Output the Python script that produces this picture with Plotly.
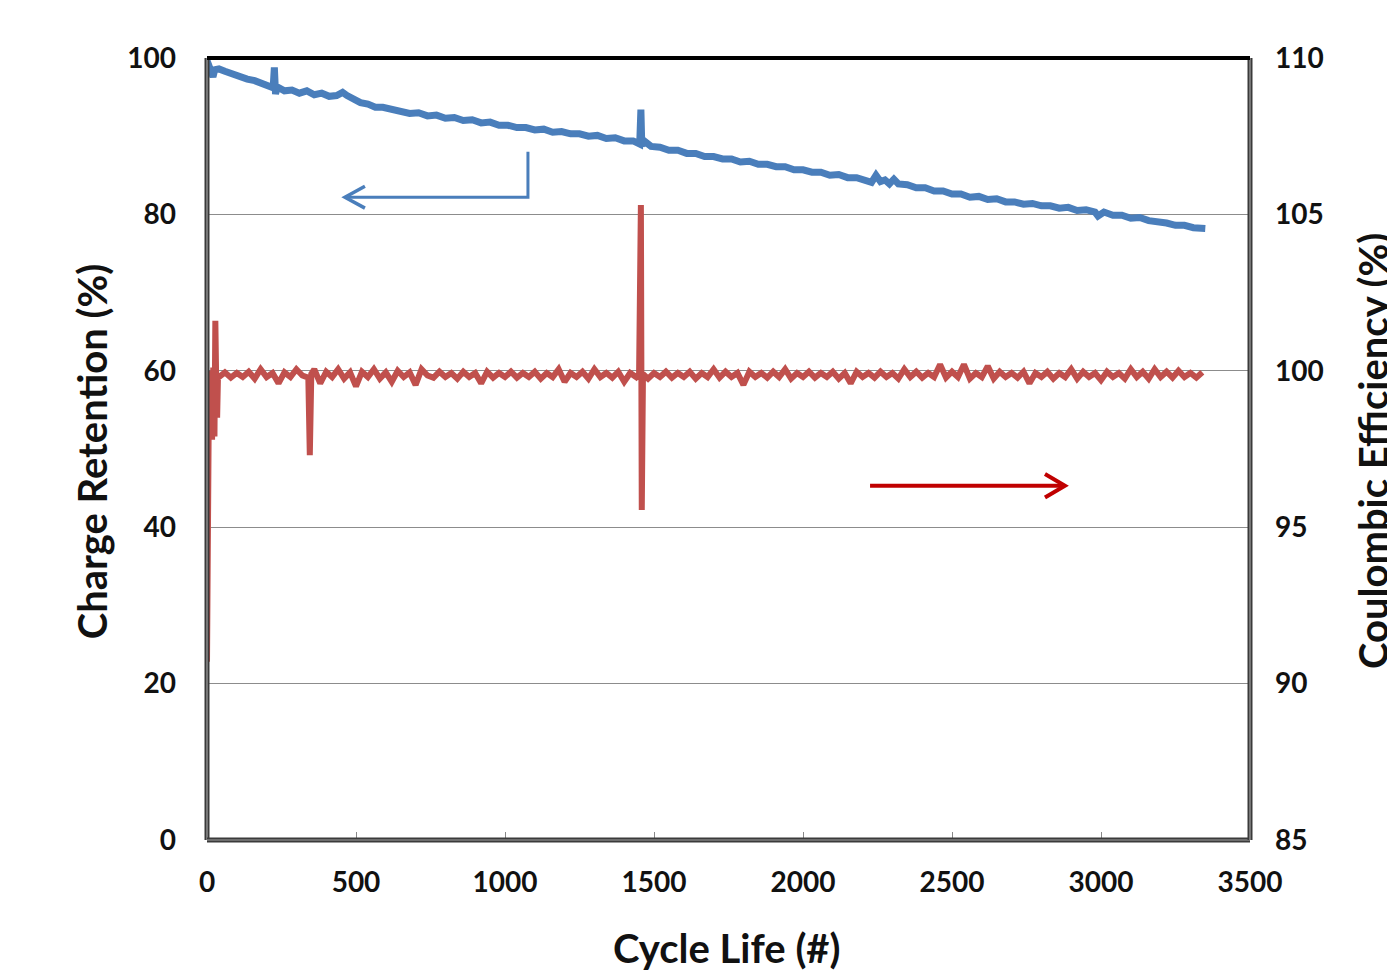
import plotly.graph_objects as go

# ---------------- data ----------------
blue_cycles = [0, 8, 15, 20, 26, 40, 60, 85, 110, 135, 160, 185, 205, 222, 226, 230, 236,
               260, 285, 310, 335, 360, 385, 410, 435, 455, 470, 490, 515, 540, 565, 590,
               620, 650, 680, 710, 740, 770, 800, 830, 860, 890, 920, 950, 980, 1010, 1040,
               1070, 1100, 1130, 1160, 1190, 1220, 1250, 1280, 1310, 1340, 1370, 1400, 1430,
               1452, 1456, 1459, 1470, 1490, 1520, 1550, 1580, 1610, 1640, 1670, 1700, 1730,
               1760, 1790, 1820, 1850, 1880, 1910, 1940, 1970, 2000, 2030, 2060, 2090, 2120,
               2150, 2180, 2210, 2230, 2245, 2260, 2275, 2290, 2305, 2320, 2350, 2380, 2410,
               2440, 2470, 2500, 2530, 2560, 2590, 2620, 2650, 2680, 2710, 2740, 2770, 2800,
               2830, 2860, 2890, 2920, 2950, 2980, 2990, 3010, 3040, 3070, 3100, 3130, 3160,
               3190, 3220, 3250, 3280, 3310, 3340, 3350]
charge_retention = [99.7, 99.0, 98.2, 97.6, 98.5, 98.6, 98.3, 97.9, 97.7, 97.3, 97.1, 96.7,
                    96.6, 96.2, 98.8, 95.4, 96.3, 95.8, 95.9, 95.5, 95.8, 95.3, 95.5, 95.1,
                    95.2, 95.6, 95.2, 94.8, 94.3, 94.1, 93.7, 93.7, 93.4, 93.3, 92.9, 93.0,
                    92.6, 92.7, 92.3, 92.4, 92.0, 92.1, 91.7, 91.8, 91.4, 91.4, 91.1, 91.1,
                    90.8, 90.9, 90.5, 90.6, 90.3, 90.3, 90.0, 90.1, 89.7, 89.8, 89.4, 89.4,
                    89.0, 93.4, 88.9, 89.3, 88.7, 88.6, 88.2, 88.2, 87.8, 87.8, 87.4, 87.4,
                    87.1, 87.1, 86.7, 86.8, 86.4, 86.4, 86.1, 86.1, 85.7, 85.7, 85.4, 85.4,
                    85.0, 85.1, 84.7, 84.7, 84.4, 84.1, 85.0, 84.2, 84.4, 83.9, 84.5, 83.9,
                    83.8, 83.4, 83.4, 83.0, 83.0, 82.6, 82.6, 82.2, 82.3, 81.9, 82.0, 81.6,
                    81.6, 81.3, 81.4, 81.1, 81.1, 80.8, 80.9, 80.5, 80.6, 80.3, 79.8, 80.3,
                    79.9, 79.9, 79.5, 79.6, 79.2, 79.1, 78.9, 78.6, 78.6, 78.3, 78.2, 78.2]

red_cycles = [0, 2, 4, 7, 10, 13, 17, 21, 25, 28, 31, 34, 37,
              40, 60, 80, 100, 120, 140, 160, 180, 200, 220,
              240, 260, 280, 300, 320, 340, 345, 350, 360, 380, 400, 420,
              440, 460, 480, 500, 520, 540, 560, 580, 600, 620,
              640, 660, 680, 700, 720, 740, 760, 780, 800, 820,
              840, 860, 880, 900, 920, 940, 960, 980, 1000, 1020,
              1040, 1060, 1080, 1100, 1120, 1140, 1160, 1180, 1200, 1220,
              1240, 1260, 1280, 1300, 1320, 1340, 1360, 1380, 1400, 1420,
              1440, 1450, 1456, 1459, 1463, 1480, 1500, 1520, 1540, 1560, 1580, 1600, 1620,
              1640, 1660, 1680, 1700, 1720, 1740, 1760, 1780, 1800, 1820,
              1840, 1860, 1880, 1900, 1920, 1940, 1960, 1980, 2000, 2020,
              2040, 2060, 2080, 2100, 2120, 2140, 2160, 2180, 2200, 2220,
              2240, 2260, 2280, 2300, 2320, 2340, 2360, 2380, 2400, 2420,
              2440, 2460, 2480, 2500, 2520, 2540, 2560, 2580, 2600, 2620,
              2640, 2660, 2680, 2700, 2720, 2740, 2760, 2780, 2800, 2820,
              2840, 2860, 2880, 2900, 2920, 2940, 2960, 2980, 3000, 3020,
              3040, 3060, 3080, 3100, 3120, 3140, 3160, 3180, 3200, 3220,
              3240, 3260, 3280, 3300, 3320, 3340]
coulombic_eff = [90.7, 99.7, 97.8, 100.0, 97.9, 99.9, 97.8, 100.1, 97.9, 101.6, 99.6, 98.5, 99.9,
                 99.8, 99.95, 99.78, 99.93, 99.8, 99.97, 99.75, 100.05, 99.8, 99.93,
                 99.6, 99.95, 99.8, 100.05, 99.85, 99.78, 97.3, 99.9, 100.05, 99.6, 99.97, 99.8,
                 100.05, 99.75, 99.95, 99.5, 99.97, 99.8, 100.05, 99.75, 99.95, 99.65,
                 100.0, 99.8, 99.95, 99.55, 100.05, 99.85, 99.78, 99.97, 99.8, 99.93,
                 99.75, 99.97, 99.8, 99.93, 99.6, 99.97, 99.78, 99.93, 99.8, 99.97,
                 99.78, 99.93, 99.8, 99.97, 99.75, 99.93, 99.8, 100.05, 99.65, 99.93,
                 99.8, 99.97, 99.75, 100.05, 99.8, 99.93, 99.78, 99.97, 99.65, 99.93,
                 99.8, 99.93, 105.3, 95.55, 99.9, 99.75, 99.93, 99.8, 99.97, 99.78, 99.93, 99.8, 99.97,
                 99.75, 99.93, 99.8, 100.05, 99.78, 99.97, 99.8, 99.93, 99.55, 99.97,
                 99.8, 99.93, 99.78, 99.97, 99.8, 100.05, 99.75, 99.93, 99.8, 99.97,
                 99.78, 99.93, 99.8, 99.97, 99.75, 99.93, 99.6, 99.97, 99.8, 99.93,
                 99.78, 99.97, 99.8, 99.93, 99.75, 100.05, 99.8, 99.97, 99.78, 99.93,
                 99.8, 100.2, 99.78, 99.97, 99.8, 100.2, 99.75, 99.93, 99.8, 100.15,
                 99.75, 99.97, 99.8, 99.93, 99.78, 99.97, 99.6, 99.93, 99.8, 99.97,
                 99.75, 99.93, 99.8, 100.05, 99.75, 99.97, 99.8, 99.93, 99.7, 99.97,
                 99.8, 99.93, 99.75, 100.05, 99.8, 99.97, 99.75, 100.05, 99.8, 99.97,
                 99.78, 100.0, 99.8, 99.93, 99.78, 99.95]

x_ticks = [0, 500, 1000, 1500, 2000, 2500, 3000, 3500]
left_ticks = [0, 20, 40, 60, 80, 100]
right_ticks = [85, 90, 95, 100, 105, 110]

BLUE = "#4A7EBB"
RED = "#C0504D"
DARKRED = "#C00000"
FONT = "Lato"

fig = go.Figure()
fig.add_trace(go.Scatter(x=red_cycles, y=coulombic_eff, yaxis="y2", mode="lines",
                         line=dict(color=RED, width=6), showlegend=False, hoverinfo="skip"))
fig.add_trace(go.Scatter(x=blue_cycles, y=charge_retention, yaxis="y", mode="lines",
                         line=dict(color=BLUE, width=7), showlegend=False, hoverinfo="skip"))

tickfont = dict(family=FONT, size=28, color="#111111", weight="bold")

# the page body adds an 8 px offset; margins compensate so the plot area sits at
# x 207..1250, y 58..840 in the window
fig.update_layout(
    width=1395, height=976,
    margin=dict(l=199, r=153, t=50, b=144),
    paper_bgcolor="white", plot_bgcolor="white",
    showlegend=False,
    xaxis=dict(range=[0, 3500], tickvals=x_ticks, ticktext=[str(v) for v in x_ticks],
               ticks="inside", ticklen=8, tickwidth=1, tickcolor="#888888",
               showgrid=False, zeroline=False, showline=False,
               tickfont=tickfont, ticklabelstandoff=23),
    yaxis=dict(range=[0, 100], tickvals=left_ticks, ticktext=[str(v) for v in left_ticks],
               showgrid=True, gridcolor="#8c8c8c", gridwidth=1, zeroline=False, showline=False,
               ticks="", tickfont=tickfont, ticklabelstandoff=30),
    yaxis2=dict(range=[85, 110], tickvals=right_ticks, ticktext=[str(v) for v in right_ticks],
                overlaying="y", side="right", showgrid=False, zeroline=False, showline=False,
                ticks="", tickfont=tickfont, ticklabelstandoff=24),
)

# plot frame
shapes = []
for (x0, y0, x1, y1) in [(0, 0, 0, 1), (0, 0, 1, 0), (1, 0, 1, 1)]:
    shapes.append(dict(type="line", xref="paper", yref="paper", x0=x0, y0=y0, x1=x1, y1=y1,
                       line=dict(color="#3a3a3a", width=5), layer="above"))
    shapes.append(dict(type="line", xref="paper", yref="paper", x0=x0, y0=y0, x1=x1, y1=y1,
                       line=dict(color="#a0a0a0", width=1.2), layer="above"))
shapes.append(dict(type="line", xref="paper", yref="paper", x0=0, y0=1, x1=1, y1=1,
                   line=dict(color="black", width=4), layer="above"))

# blue arrow (pointing to left axis)
shapes.append(dict(type="path", xref="x", yref="y",
                   path="M 1077,88.0 L 1077,82.2 L 463,82.2",
                   line=dict(color=BLUE, width=3)))
shapes.append(dict(type="path", xref="x", yref="y",
                   path="M 530,83.6 L 463,82.2 L 530,80.8",
                   line=dict(color=BLUE, width=3.5)))
# red arrow (pointing to right axis)
shapes.append(dict(type="line", xref="x", yref="y", x0=2225, y0=45.3, x1=2875, y1=45.3,
                   line=dict(color=DARKRED, width=4)))
shapes.append(dict(type="path", xref="x", yref="y",
                   path="M 2812,46.8 L 2879,45.3 L 2812,43.8",
                   line=dict(color=DARKRED, width=4)))
fig.update_layout(shapes=shapes)

titlefont = dict(family=FONT, size=40, color="#111111", weight="bold")
fig.add_annotation(text="Cycle Life (#)", xref="paper", yref="paper", x=0.4986, y=-0.138,
                   xanchor="center", yanchor="middle", showarrow=False, font=titlefont)
fig.add_annotation(text="Charge Retention (%)", xref="paper", yref="paper", x=-0.110, y=0.4974,
                   xanchor="center", yanchor="middle", textangle=-90, showarrow=False, font=titlefont)
fig.add_annotation(text="Coulombic Efficiency (%)", xref="paper", yref="paper", x=1.118, y=0.4974,
                   xanchor="center", yanchor="middle", textangle=-90, showarrow=False, font=titlefont)

fig.write_html("out.html")
